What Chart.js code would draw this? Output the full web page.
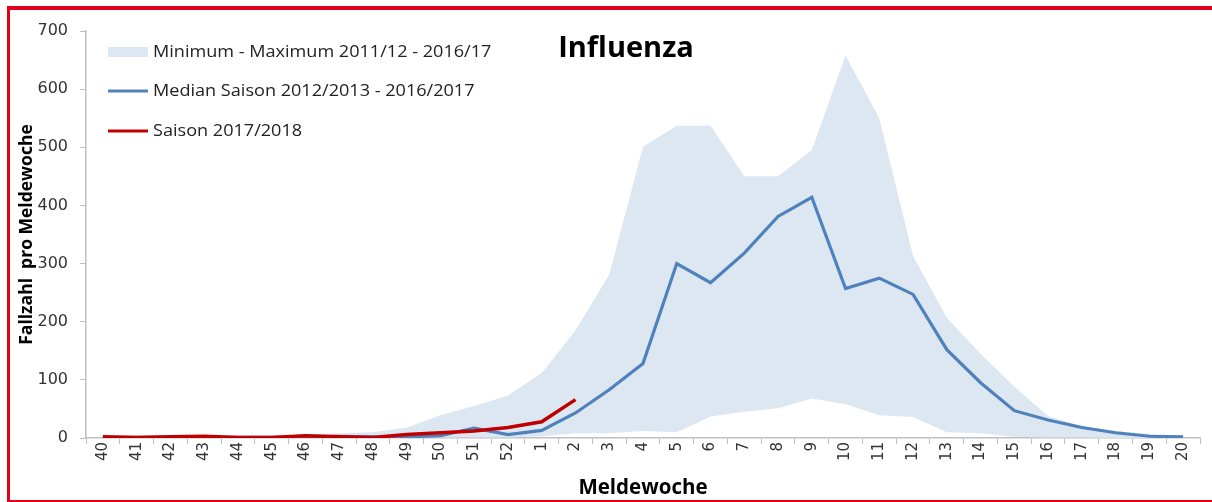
<!DOCTYPE html>
<html>
<head>
<meta charset="utf-8">
<script src="https://cdn.jsdelivr.net/npm/chart.js@4.4.0/dist/chart.umd.min.js"></script>
<style>
  html, body { margin: 0; padding: 0; background: #fff; overflow: hidden; }
  #wrap { position: relative; width: 1212px; height: 502px; overflow: hidden; }
  #c { position: absolute; left: 0; top: 0; }
  .fl { position: absolute; background: #e2001a; pointer-events: none; }
  #fl-left { left: 7px; top: 6px; width: 3px; height: 496px; }
  #fl-top { left: 7px; top: 6px; width: 1205px; height: 4px; }
  #fl-bottom { left: 7px; top: 500px; width: 1205px; height: 2px; }
</style>
</head>
<body>
<div id="wrap">
  <canvas id="c" width="1212" height="502"></canvas>
  <div class="fl" id="fl-left"></div>
  <div class="fl" id="fl-top"></div>
  <div class="fl" id="fl-bottom"></div>
</div>
<script>
const weeks = ['40','41','42','43','44','45','46','47','48','49','50','51','52',
               '1','2','3','4','5','6','7','8','9','10','11','12','13','14','15','16','17','18','19','20'];
const maxValues = [2,2,3,3,2,3,6,8,10,18,39,55,73,112,185,281,501,537,537,450,450,495,658,550,313,207,145,88,38,20,12,7,4];
const minValues = [0,0,0,0,0,0,0,0,0,0,1,1,1,3,8,8,12,10,37,45,51,68,58,39,36,10,8,2,1,1,0,0,0];
const medianValues = [1,1,1,1,1,1,2,3,2,2,4,17,6,13,43,83,128,300,267,318,381,414,257,275,247,152,95,47,31,18,9,3,2];
const season1718 = [2,1,2,3,1,1,4,2,1,6,9,12,18,28,66,null,null,null,null,null,null,null,null,null,null,null,null,null,null,null,null,null,null];
const yTicks = [0,100,200,300,400,500,600,700];

const chartTitle = 'Influenza';
const legendLabels = ['Minimum - Maximum 2011/12 - 2016/17', 'Median Saison 2012/2013 - 2016/2017', 'Saison 2017/2018'];

const bandColor = '#dde7f1';
const medianColor = '#4f81bd';
const seasonColor = '#c00000';

const overlayPlugin = {
  id: 'overlay',
  afterDraw(chart) {
    const ctx = chart.ctx;
    ctx.save();
    // title
    ctx.fillStyle = '#000';
    ctx.font = 'bold 29px "Open Sans"';
    ctx.textAlign = 'center';
    ctx.textBaseline = 'alphabetic';
    ctx.fillText(chartTitle, 626, 57);
    // legend symbols
    ctx.fillStyle = bandColor;
    ctx.fillRect(108, 47, 40, 10);
    ctx.lineWidth = 3;
    ctx.strokeStyle = medianColor;
    ctx.beginPath(); ctx.moveTo(108, 91); ctx.lineTo(148, 91); ctx.stroke();
    ctx.strokeStyle = seasonColor;
    ctx.beginPath(); ctx.moveTo(108, 131); ctx.lineTo(148, 131); ctx.stroke();
    // legend texts (slightly widened like the original)
    ctx.font = '16px "Open Sans"';
    ctx.textAlign = 'left';
    ctx.textBaseline = 'middle';
    ctx.fillStyle = '#222';
    const sx = 1.13;
    ctx.translate(153, 0);
    ctx.scale(sx, 1);
    ctx.fillText(legendLabels[0], 0, 52);
    ctx.fillText(legendLabels[1], 0, 91);
    ctx.fillText(legendLabels[2], 0, 131);
    ctx.restore();
  }
};

new Chart(document.getElementById('c'), {
  type: 'line',
  data: {
    labels: weeks,
    datasets: [
      { label: legendLabels[0], data: maxValues, borderWidth: 0, borderColor: 'rgba(0,0,0,0)',
        backgroundColor: bandColor, fill: '+1', pointRadius: 0, tension: 0, order: 3 },
      { label: 'min', data: minValues, borderWidth: 0, borderColor: 'rgba(0,0,0,0)',
        backgroundColor: bandColor, fill: false, pointRadius: 0, tension: 0, order: 3 },
      { label: legendLabels[1], data: medianValues, borderWidth: 3.2, borderColor: medianColor,
        fill: false, pointRadius: 0, tension: 0, order: 2 },
      { label: legendLabels[2], data: season1718, borderWidth: 3.5, borderColor: seasonColor,
        fill: false, pointRadius: 0, tension: 0, order: 1, spanGaps: false }
    ]
  },
  options: {
    responsive: false,
    animation: false,
    devicePixelRatio: 1,
    layout: { padding: { left: 0, right: 12, top: 31, bottom: 0 } },
    plugins: { legend: { display: false }, title: { display: false }, tooltip: { enabled: false } },
    scales: {
      x: {
        offset: true,
        grid: { drawOnChartArea: false, drawTicks: true, tickLength: 6, color: '#bfbfbf', offset: true },
        border: { color: '#bfbfbf', width: 1.5 },
        ticks: { minRotation: 90, maxRotation: 90, autoSkip: false, padding: -2,
                 font: { family: '"DejaVu Sans"', size: 15 }, color: '#333' },
        title: { display: true, text: 'Meldewoche', font: { family: '"Open Sans"', size: 20.5, weight: 'bold' },
                 color: '#000', padding: { top: 0, bottom: 2 } },
        afterFit(scale) { scale.height = 64; }
      },
      y: {
        min: 0, max: 700,
        afterBuildTicks(scale) { scale.ticks = yTicks.map(v => ({ value: v })); },
        grid: { drawOnChartArea: false, drawTicks: true, tickLength: 6, color: '#bfbfbf' },
        border: { color: '#bfbfbf', width: 1.5 },
        ticks: { padding: 12, font: { family: '"DejaVu Sans"', size: 16 }, color: '#333' },
        title: { display: true, text: 'Fallzahl  pro Meldewoche', font: { family: '"Open Sans"', size: 17.5, weight: 'bold' },
                 color: '#000', padding: { top: 17, bottom: 0 } },
        afterFit(scale) { scale.width = 86; }
      }
    }
  },
  plugins: [overlayPlugin]
});
</script>
</body>
</html>
